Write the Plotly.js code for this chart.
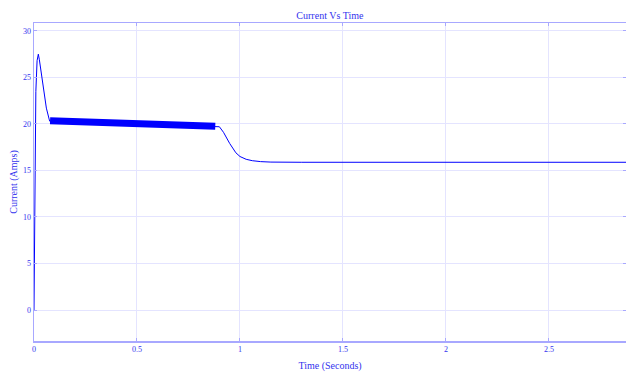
<!DOCTYPE html>
<html><head><meta charset="utf-8">
<script src="https://cdn.plot.ly/plotly-3.0.1.min.js"></script>
<style>html,body{margin:0;padding:0;background:#fff}#c{width:626px;height:376px}</style>
</head><body><div id="c"></div>
<script>
// Main current trace (Amps) vs time (s)
const timeMain = [0, 0.004, 0.009, 0.015, 0.021, 0.026, 0.04, 0.06, 0.076, 0.3, 0.6, 0.88, 0.9, 0.92, 0.95, 0.98, 1.0, 1.03, 1.06, 1.1, 1.15, 1.3, 1.6, 2.0, 2.5, 2.9];
const currentMain = [0, 15, 23.5, 26.8, 27.5, 26.9, 24.6, 21.7, 20.3, 20.15, 19.95, 19.75, 19.7, 19.1, 17.9, 16.9, 16.5, 16.2, 16.05, 15.95, 15.9, 15.88, 15.88, 15.88, 15.88, 15.88];
// High-frequency ripple band (drawn as a thick envelope)
const timeBand = [0.078, 0.3, 0.6, 0.88];
const currentBand = [20.35, 20.15, 19.95, 19.75];
const xTicks = [0, 0.5, 1, 1.5, 2, 2.5];
const yTicks = [0, 5, 10, 15, 20, 25, 30];

const blue = '#0000ff';
const txt = '#3333ee';
const axisCol = '#a8a8ff';
const gridCol = '#e4e4ff';
const font = 'Liberation Serif, Times New Roman, serif';

Plotly.newPlot('c', [
  {x: timeMain, y: currentMain, mode: 'lines', line: {color: blue, width: 1}, hoverinfo: 'none'},
  {x: timeBand, y: currentBand, mode: 'lines', line: {color: blue, width: 7}, hoverinfo: 'none'}
], {
  width: 626, height: 376,
  margin: {l: 34, r: 0, t: 23, b: 35, pad: 0},
  paper_bgcolor: '#fff', plot_bgcolor: '#fff',
  showlegend: false,
  title: {text: 'Current Vs Time', font: {family: font, size: 10, color: txt}, x: 0.527, xanchor: 'center', y: 0.958, yanchor: 'middle'},
  xaxis: {
    range: [0, 2.874], tickvals: xTicks, ticktext: xTicks.map(String),
    showline: true, linecolor: axisCol, linewidth: 1.5, mirror: 'ticks',
    showgrid: true, gridcolor: gridCol, gridwidth: 1, zeroline: false,
    ticks: 'inside', ticklen: 3, tickcolor: axisCol,
    tickfont: {family: font, size: 8, color: txt},
    title: {text: 'Time (Seconds)', font: {family: font, size: 10, color: txt}, standoff: 9}
  },
  yaxis: {
    range: [-3.33, 30.85], tickvals: yTicks, ticktext: yTicks.map(String),
    showline: true, linecolor: axisCol, linewidth: 1.5, mirror: 'ticks',
    showgrid: true, gridcolor: gridCol, gridwidth: 1, zeroline: false,
    ticks: 'inside', ticklen: 3, tickcolor: axisCol,
    tickfont: {family: font, size: 8, color: txt},
    title: {text: 'Current (Amps)', font: {family: font, size: 10, color: txt}, standoff: 3}
  }
}, {displayModeBar: false, staticPlot: true});
</script></body></html>
